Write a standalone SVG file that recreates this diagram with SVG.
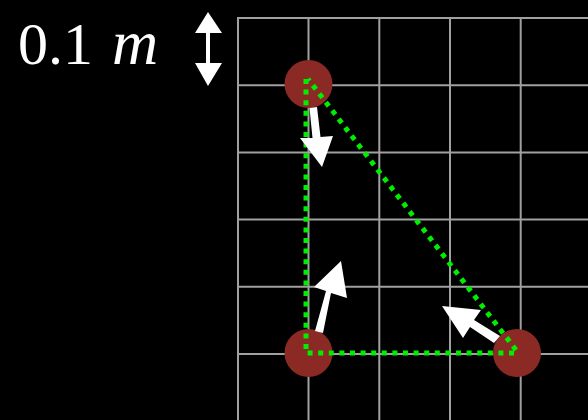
<svg xmlns="http://www.w3.org/2000/svg" width="588" height="420" viewBox="0 0 588 420">
<style>
.grid line{stroke:#a0a0a0;stroke-width:2}
.ball{fill:#8b2a24}
.tri{fill:none;stroke:#00ee00;stroke-width:5;stroke-dasharray:5 5.6}
.vec{fill:#ffffff}
.lbl{fill:#ffffff;font-family:"Liberation Serif",serif;font-size:60px}
</style>
<rect width="588" height="420" fill="#000"/>
<g id="grid" class="grid">
<line x1="238" y1="18" x2="238" y2="420"/>
<line x1="308.5" y1="18" x2="308.5" y2="420"/>
<line x1="379.3" y1="18" x2="379.3" y2="420"/>
<line x1="450" y1="18" x2="450" y2="420"/>
<line x1="520.7" y1="18" x2="520.7" y2="420"/>
<line x1="237" y1="18" x2="588" y2="18"/>
<line x1="237" y1="85.2" x2="588" y2="85.2"/>
<line x1="237" y1="152.4" x2="588" y2="152.4"/>
<line x1="237" y1="219.6" x2="588" y2="219.6"/>
<line x1="237" y1="286.8" x2="588" y2="286.8"/>
<line x1="237" y1="354" x2="588" y2="354"/>
</g>
<g id="scale">
<text class="lbl" x="18" y="64">0.1<tspan x="112" font-style="italic" font-size="64">m</tspan></text>
<path class="vec" d="M208 12 L222 33 L210 33 L210 63 L222 63 L208 86 L195 63 L206 63 L206 33 L195 33 Z"/>
</g>
<g id="node-top"><circle class="ball" cx="308.5" cy="84" r="24"/></g>
<g id="node-bl"><circle class="ball" cx="308.5" cy="353" r="24"/></g>
<g id="node-br"><circle class="ball" cx="517" cy="353" r="24"/></g>
<g id="connectors">
<path class="tri" d="M306 79 L306 353 L515 353 M516 350 L308 79"/>
</g>
<g id="vectors">
<path class="vec" d="M309.5 108 L317 107 L320.5 137 L333 136 L322 167 L300 138 L312.5 138 Z"/>
<path class="vec" d="M315 331 L323 333 L331 293 L347 298 L341 261 L314 287 L326 291 Z"/>
<path class="vec" d="M500 336 L494 343 L470 327 L463 338 L442 306 L481 310 L474 320 Z"/>
</g>
</svg>
